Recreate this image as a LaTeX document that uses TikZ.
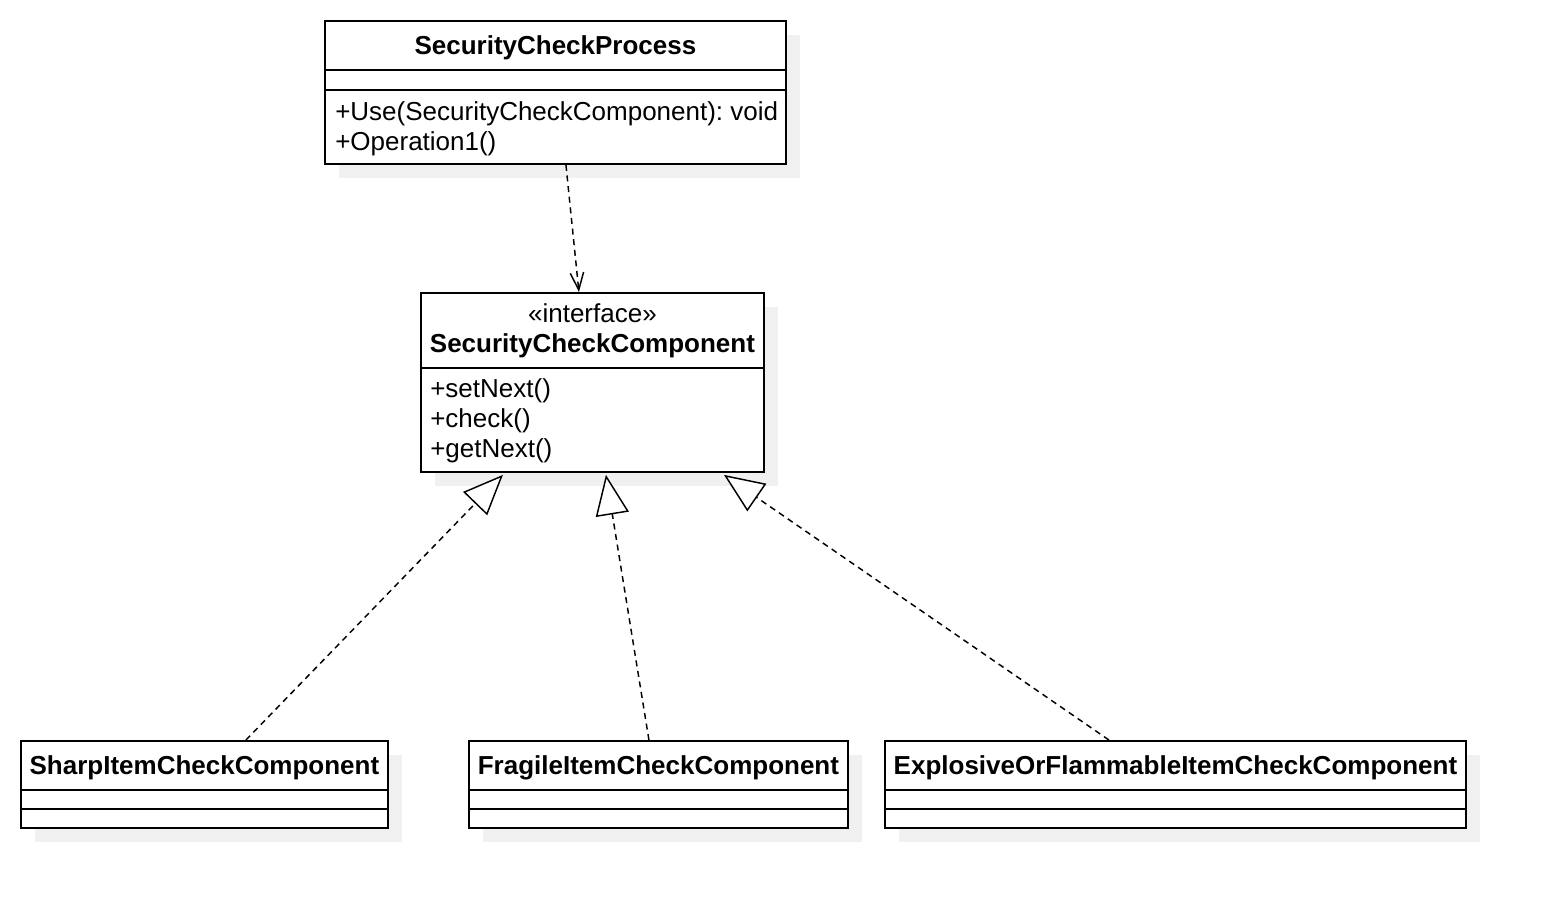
\documentclass[tikz,border=0pt]{standalone}
\usepackage{fontspec}
\setmainfont{Liberation Sans}
\usetikzlibrary{arrows.meta,calc,shadows}
\frenchspacing

\begin{document}
\begin{tikzpicture}[x=0.75pt,y=-0.75pt,
  cls/.style={draw,line width=1.4pt,fill=white,inner sep=0pt,anchor=north west,
    drop shadow={shadow xshift=10.5pt,shadow yshift=-10.5pt,fill=black!6,opacity=1}},
  cname/.style={font=\bfseries\fontsize{19.5}{22.5}\selectfont,inner sep=0pt,anchor=base},
  stereo/.style={font=\fontsize{19.5}{22.5}\selectfont,inner sep=0pt,anchor=base},
  member/.style={font=\fontsize{19.5}{22.5}\selectfont,inner sep=0pt,anchor=base west},
  sep/.style={line width=1.4pt},
  dep/.style={line width=1.1pt,dash pattern=on 4.5pt off 3.5pt,
    -{Straight Barb[length=13pt,width=10pt,line width=1.1pt]}},
  impl/.style={line width=1.1pt,dash pattern=on 4.5pt off 3.5pt,
    -{Triangle[length=30pt,width=25pt,fill=white,line width=1.1pt]}}]
\useasboundingbox (0,0) rectangle (1544,908);
% classes
\node[cls,minimum width=345.75pt,minimum height=107.25pt] (proc)  at (324,20)  {};
\node[cls,minimum width=257.25pt,minimum height=134.25pt] (iface) at (420,292) {};
\node[cls,minimum width=275.25pt,minimum height=65.25pt]  (sharp) at (20,740)  {};
\node[cls,minimum width=284.25pt,minimum height=65.25pt]  (frag)  at (468,740) {};
\node[cls,minimum width=435.75pt,minimum height=65.25pt]  (expl)  at (884,740) {};
% SecurityCheckProcess
\node[cname] (procname) at ($(proc.north)+(0,34)$) {SecurityCheckProcess};
\draw[sep] ($(proc.north west)+(0,50)$) -- ($(proc.north east)+(0,50)$);
\draw[sep] ($(proc.north west)+(0,70)$) -- ($(proc.north east)+(0,70)$);
\node[member] (procuse) at ($(proc.north west)+(11,100)$) {+Use(SecurityCheckComponent): void};
\node[member] (procop)  at ($(proc.north west)+(11,130)$) {+Operation1()};
% SecurityCheckComponent
\node[stereo] (ifacest)   at ($(iface.north)+(0,30)$) {«interface»};
\node[cname]  (ifacename) at ($(iface.north)+(0,60)$) {SecurityCheckComponent};
\draw[sep] ($(iface.north west)+(0,76)$) -- ($(iface.north east)+(0,76)$);
\node[member] (ifaceset) at ($(iface.north west)+(10,105)$) {+setNext()};
\node[member] (ifacechk) at ($(iface.north west)+(10,135)$) {+check()};
\node[member] (ifaceget) at ($(iface.north west)+(10,165)$) {+getNext()};
% concrete components
\foreach \c/\t in {sharp/SharpItemCheckComponent,frag/FragileItemCheckComponent,
                   expl/ExplosiveOrFlammableItemCheckComponent}{
  \node[cname] (\c name) at ($(\c.north)+(0,34)$) {\t};
  \draw[sep] ($(\c.north west)+(0,50)$) -- ($(\c.north east)+(0,50)$);
  \draw[sep] ($(\c.north west)+(0,69)$) -- ($(\c.north east)+(0,69)$);
}
% dependency
\draw[dep] ($(proc.south)+(10.5,0)$) -- ($(iface.north)+(-13.5,0)$);
% realizations
\draw[impl] ($(sharp.north)+(41.5,0)$) -- ($(iface.south)+(-89.5,2)$);
\draw[impl] ($(frag.north)+(-9.5,0)$)  -- ($(iface.south)+(13.5,2)$);
\draw[impl] ($(expl.north)+(-66.5,0)$) -- ($(iface.south)+(131.5,2)$);
\end{tikzpicture}
\end{document}
